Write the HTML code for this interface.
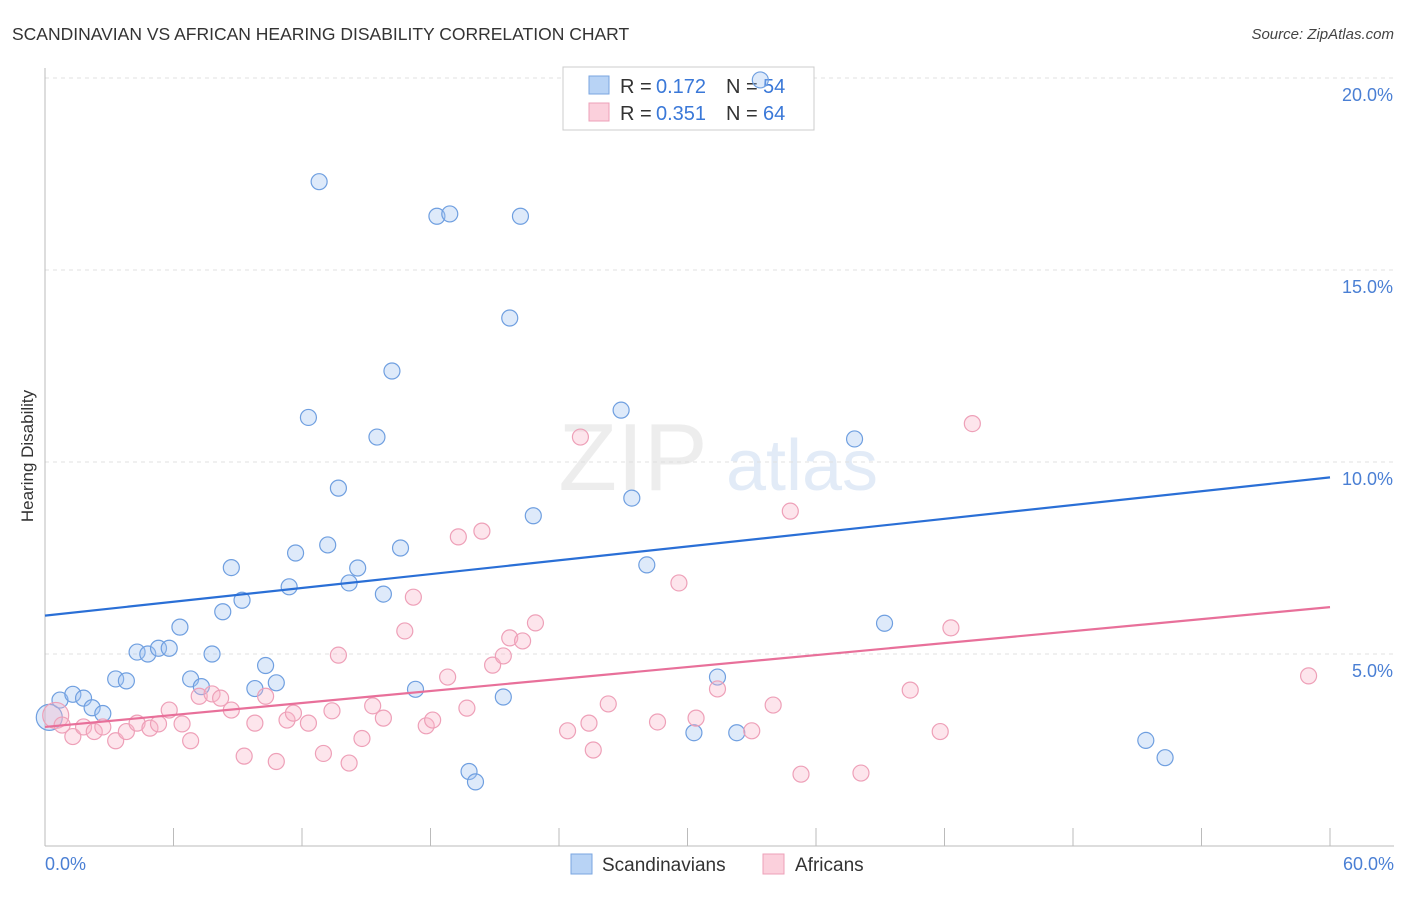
<!DOCTYPE html>
<html><head><meta charset="utf-8">
<style>
body{margin:0;background:#fff;font-family:"Liberation Sans",sans-serif;}
svg text{font-family:"Liberation Sans",sans-serif;}
</style></head>
<body>
<svg id="chart" width="1406" height="892" xmlns="http://www.w3.org/2000/svg">
<text x="12" y="40" font-size="17.5" fill="#333">SCANDINAVIAN VS AFRICAN HEARING DISABILITY CORRELATION CHART</text>
<text x="1394" y="39" font-size="15" fill="#444" font-style="italic" text-anchor="end">Source: ZipAtlas.com</text>
<text transform="translate(33,456) rotate(-90)" font-size="17" fill="#333" text-anchor="middle">Hearing Disability</text>
<g opacity="0.5">
<text x="633" y="490" font-size="96" fill="#ddd" font-family="Liberation Serif" text-anchor="middle">ZIP</text>
<text x="802" y="490" font-size="72" fill="#c6d8f0" text-anchor="middle">atlas</text>
</g>
<g id="grid"></g>
<g id="axes"></g>
<g>
<rect x="563" y="67" width="251" height="63" fill="#fff" stroke="#ccc"/>
<rect x="589" y="76" width="20" height="18" fill="#b8d3f5" stroke="#7aa6e0"/>
<text x="620" y="93" font-size="20" fill="#333">R = </text><text x="656" y="93" font-size="20" fill="#3a78d8">0.172</text>
<text x="726" y="93" font-size="20" fill="#333">N = </text><text x="763" y="93" font-size="20" fill="#3a78d8">54</text>
<rect x="589" y="103" width="20" height="18" fill="#fbd0dc" stroke="#eea0b8"/>
<text x="620" y="120" font-size="20" fill="#333">R = </text><text x="656" y="120" font-size="20" fill="#3a78d8">0.351</text>
<text x="726" y="120" font-size="20" fill="#333">N = </text><text x="763" y="120" font-size="20" fill="#3a78d8">64</text>
</g>
<g id="points"></g>
<g id="lines"></g>
<g>
<rect x="571" y="854" width="21" height="20" fill="#b8d3f5" stroke="#7aa6e0"/>
<text x="602" y="871" font-size="19" fill="#333">Scandinavians</text>
<rect x="763" y="854" width="21" height="20" fill="#fbd0dc" stroke="#eea0b8"/>
<text x="795" y="871" font-size="19" fill="#333">Africans</text>
</g>
</svg>
<script>
const yTicks=[5,10,15,20];
const yTickLabels=["5.0%","10.0%","15.0%","20.0%"];
const xLabels=["0.0%","60.0%"];
const scanX=[0.2,0.7,1.3,1.8,2.2,2.7,3.3,3.8,4.3,4.8,5.3,5.8,6.3,6.8,7.3,7.8,8.3,8.7,9.2,9.8,10.3,10.8,11.4,11.7,12.3,12.8,13.2,13.7,14.2,14.6,15.5,15.8,16.2,16.6,17.3,18.3,18.9,19.8,20.1,21.4,21.7,22.2,22.8,26.9,27.4,28.1,30.3,31.4,32.3,37.8,39.2,51.4,52.3,33.4];
const scanY=[3.35,3.8,3.95,3.85,3.6,3.45,4.35,4.3,5.05,5.0,5.15,5.15,5.7,4.35,4.15,5.0,6.1,7.25,6.4,4.1,4.7,4.25,6.75,7.63,11.16,17.3,7.84,9.32,6.85,7.24,10.65,6.56,12.37,7.76,4.08,16.4,16.46,1.94,1.67,3.88,13.75,16.4,8.6,11.35,9.06,7.32,2.95,4.4,2.95,10.6,5.8,2.75,2.3,19.95];
const afrX=[0.5,0.8,1.3,1.8,2.3,2.7,3.3,3.8,4.3,4.9,5.3,5.8,6.4,6.8,7.2,7.8,8.2,8.7,9.3,9.8,10.3,10.8,11.3,11.6,12.3,13.0,13.4,13.7,14.2,14.8,15.3,15.8,16.8,17.2,17.8,18.1,18.8,19.3,19.7,20.4,20.9,21.4,21.7,22.3,22.9,24.4,25.0,25.4,25.6,26.3,28.6,29.6,30.4,31.4,33.0,34.0,34.8,35.3,38.1,40.4,41.8,42.3,43.3,59.0];
const afrY=[3.4,3.15,2.85,3.1,2.98,3.1,2.74,2.98,3.2,3.07,3.18,3.54,3.18,2.74,3.9,3.96,3.85,3.54,2.34,3.2,3.9,2.2,3.28,3.46,3.2,2.41,3.52,4.97,2.16,2.8,3.65,3.33,5.6,6.48,3.13,3.28,4.40,8.05,3.59,8.2,4.71,4.95,5.42,5.34,5.81,3.0,10.65,3.2,2.5,3.7,3.23,6.85,3.33,4.09,3.0,3.67,8.72,1.87,1.9,4.06,2.98,5.68,11.0,4.43];
const scanLine=[6.0,9.6];
const afrLine=[3.1,6.22];
const X=v=>45+v*(1285/60), Y=v=>846-v*38.4;
const NS="http://www.w3.org/2000/svg";
function mk(t,a,p){const e=document.createElementNS(NS,t);for(const k in a)e.setAttribute(k,a[k]);p.appendChild(e);return e;}
const grid=document.getElementById('grid'),axes=document.getElementById('axes');
yTicks.forEach((v,i)=>{
 const l=mk('line',{x1:45,x2:1394,y1:Y(v),y2:Y(v),stroke:'#e0e0e0','stroke-dasharray':'4,4'},grid);
 
 
 const t=mk('text',{x:1393,y:Y(v)+23,'font-size':18,fill:'#4a7fd4','text-anchor':'end'},axes);
 t.textContent=yTickLabels[i];
 
 
});
const ya=mk('line',{x1:45,x2:45,y1:68,y2:846,stroke:'#bbb'},axes);


const xa=mk('line',{x1:45,x2:1394,y1:846,y2:846,stroke:'#bbb'},axes);


for(let i=0;i<=10;i++){const tk=mk('line',{x1:X(i*6),x2:X(i*6),y1:828,y2:846,stroke:'#bbb'},axes);
 
 }
[[0,'start',45],[60,'end',1394]].forEach((d,i)=>{const t=mk('text',{x:d[2],y:870,'font-size':18,fill:'#4a7fd4','text-anchor':d[1]},axes);t.textContent=xLabels[i];
 
 });
const pts=document.getElementById('points');
function series(xs,ys,fill,stroke,name){xs.forEach((x,i)=>{const c=mk('circle',{cx:X(x),cy:Y(ys[i]),r:(i==0?13:8),fill:fill,stroke:stroke,'stroke-width':1.2},pts);
 
 });}
series(scanX,scanY,'rgba(160,196,240,0.35)','#6f9fe0','scandinavian-point');
series(afrX,afrY,'rgba(248,180,200,0.35)','#eea0b8','african-point');
const ln=document.getElementById('lines');
const l1=mk('line',{x1:X(0),y1:Y(scanLine[0]),x2:X(60),y2:Y(scanLine[1]),stroke:'#2a6fd6','stroke-width':2.2},ln);


const l2=mk('line',{x1:X(0),y1:Y(afrLine[0]),x2:X(60),y2:Y(afrLine[1]),stroke:'#e8709a','stroke-width':2.2},ln);


</script>
</body></html>
